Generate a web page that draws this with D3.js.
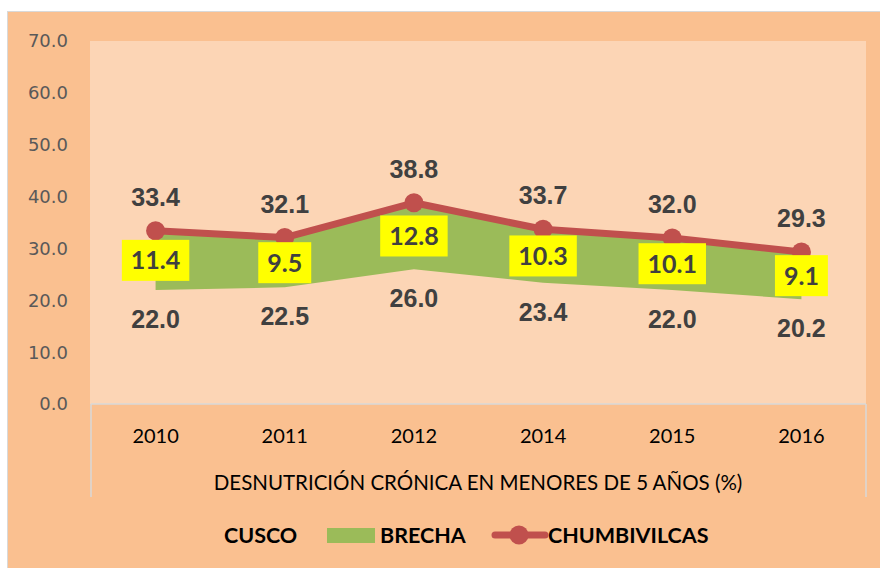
<!DOCTYPE html>
<html>
<head>
<meta charset="utf-8">
<script src="https://cdn.jsdelivr.net/npm/d3@7"></script>
<style>
  body { margin: 0; background: #fff; }
</style>
</head>
<body>
<div id="chart"></div>
<script>
let years = ['2010', '2011', '2012', '2014', '2015', '2016']
let cusco = [22.0, 22.5, 26.0, 23.4, 22.0, 20.2]
let brecha = [11.4, 9.5, 12.8, 10.3, 10.1, 9.1]
let chumbivilcas = [33.4, 32.1, 38.8, 33.7, 32.0, 29.3]
let yTicks = [0, 10, 20, 30, 40, 50, 60, 70]
let axisTitle = 'DESNUTRICIÓN CRÓNICA EN MENORES DE 5 AÑOS (%)'

let width = 880, height = 568
let plot = { left: 91, right: 866, top: 41, bottom: 404 }

let svg = d3.select('#chart')
  .append('svg')
  .attr('width', width)
  .attr('height', height)

// chart area + plot area
svg.append('rect')
  .attr('x', 7.5).attr('y', 11.5)
  .attr('width', width).attr('height', height)
  .attr('fill', '#FAC090')
  .attr('stroke', '#D9D9D9')

svg.append('rect')
  .attr('x', plot.left - 1).attr('y', plot.top)
  .attr('width', plot.right - plot.left + 1).attr('height', plot.bottom - plot.top)
  .attr('fill', '#FCD5B5')

let x = d3.scaleBand()
  .domain(years)
  .range([plot.left, plot.right])

let y = d3.scaleLinear()
  .domain([0, 70])
  .range([plot.bottom, plot.top])

let cx = function(d) { return x(d) + x.bandwidth() / 2 }

// y axis labels
svg.append('g')
  .selectAll('text')
  .data(yTicks)
  .enter()
  .append('text')
  .attr('x', 68)
  .attr('y', d => y(d))
  .attr('dy', '0.36em')
  .attr('text-anchor', 'end')
  .attr('font-family', 'DejaVu Sans')
  .attr('font-size', 18)
  .attr('fill', '#595959')
  .text(d => d.toFixed(1))

// category axis box
let axisG = svg.append('g')
  .attr('stroke', '#D9D9D9')
  .attr('stroke-width', 1.5)
axisG.append('line')
  .attr('x1', plot.left).attr('x2', plot.right)
  .attr('y1', plot.bottom).attr('y2', plot.bottom)
axisG.append('line')
  .attr('x1', plot.left).attr('x2', plot.left)
  .attr('y1', plot.bottom).attr('y2', 497)
axisG.append('line')
  .attr('x1', plot.right).attr('x2', plot.right)
  .attr('y1', plot.bottom).attr('y2', 497)

svg.append('g')
  .selectAll('text')
  .data(years)
  .enter()
  .append('text')
  .attr('x', d => cx(d))
  .attr('y', 443)
  .attr('text-anchor', 'middle')
  .attr('font-family', 'Lato')
  .attr('font-size', 20)
  .attr('fill', '#000')
  .text(d => d)

svg.append('text')
  .attr('x', 478)
  .attr('y', 490)
  .attr('text-anchor', 'middle')
  .attr('font-family', 'Lato')
  .attr('font-size', 20.5)
  .attr('fill', '#000')
  .text(axisTitle)

// stacked area: cusco (invisible) + brecha
let rows = years.map((yr, i) => ({ year: yr, cusco: cusco[i], brecha: brecha[i] }))
let stacked = d3.stack().keys(['cusco', 'brecha'])(rows)

let area = d3.area()
  .x(d => cx(d.data.year))
  .y0(d => y(d[0]))
  .y1(d => y(d[1]))

svg.append('path')
  .datum(stacked[1])
  .attr('d', area)
  .attr('fill', '#9BBB59')

// chumbivilcas line
let line = d3.line()
  .x((d, i) => cx(years[i]))
  .y(d => y(d))

svg.append('path')
  .datum(chumbivilcas)
  .attr('d', line)
  .attr('fill', 'none')
  .attr('stroke', '#C0504D')
  .attr('stroke-width', 7)
  .attr('stroke-linejoin', 'round')

svg.append('g')
  .selectAll('circle')
  .data(chumbivilcas)
  .enter()
  .append('circle')
  .attr('cx', (d, i) => cx(years[i]))
  .attr('cy', d => y(d))
  .attr('r', 9.5)
  .attr('fill', '#C0504D')

// data labels
let labelStyle = function(sel) {
  sel.attr('text-anchor', 'middle')
    .attr('font-family', 'Liberation Sans')
    .attr('font-weight', 'bold')
    .attr('font-size', 25)
    .attr('fill', '#404040')
}

svg.append('g')
  .selectAll('text')
  .data(chumbivilcas)
  .enter()
  .append('text')
  .attr('x', (d, i) => cx(years[i]))
  .attr('y', d => y(d) - 34)
  .attr('dy', '0.36em')
  .call(labelStyle)
  .text(d => d.toFixed(1))

svg.append('g')
  .selectAll('text')
  .data(cusco)
  .enter()
  .append('text')
  .attr('x', (d, i) => cx(years[i]))
  .attr('y', d => y(d) + 29)
  .attr('dy', '0.36em')
  .call(labelStyle)
  .text(d => d.toFixed(1))

let boxes = svg.append('g')
  .selectAll('g')
  .data(stacked[1])
  .enter()
  .append('g')
  .attr('transform', d => 'translate(' + cx(d.data.year) + ',' + y((d[0] + d[1]) / 2) + ')')

boxes.append('text')
  .attr('dy', '0.36em')
  .attr('text-anchor', 'middle')
  .attr('font-family', 'Lato')
  .attr('font-weight', 'bold')
  .attr('font-size', 25)
  .attr('fill', '#404040')
  .text(d => (d[1] - d[0]).toFixed(1))

boxes.each(function() {
  let g = d3.select(this)
  let bb = g.select('text').node().getBBox()
  g.insert('rect', 'text')
    .attr('x', bb.x - 9)
    .attr('y', -20.5)
    .attr('width', bb.width + 18)
    .attr('height', 41)
    .attr('fill', '#FFFF00')
})

// legend
let legend = svg.append('g')
  .attr('font-family', 'Lato')
  .attr('font-weight', 'bold')
  .attr('font-size', 21.5)
  .attr('fill', '#000')

legend.append('text').attr('x', 224).attr('y', 543).text('CUSCO')
legend.append('rect')
  .attr('x', 327).attr('y', 528)
  .attr('width', 48).attr('height', 15)
  .attr('fill', '#9BBB59')
legend.append('text').attr('x', 380).attr('y', 543).text('BRECHA')
legend.append('line')
  .attr('x1', 495).attr('x2', 545)
  .attr('y1', 535).attr('y2', 535)
  .attr('stroke', '#C0504D')
  .attr('stroke-width', 7)
  .attr('stroke-linecap', 'round')
legend.append('circle')
  .attr('cx', 519).attr('cy', 535)
  .attr('r', 9.5)
  .attr('fill', '#C0504D')
legend.append('text').attr('x', 548).attr('y', 543).text('CHUMBIVILCAS')
</script>
</body>
</html>
